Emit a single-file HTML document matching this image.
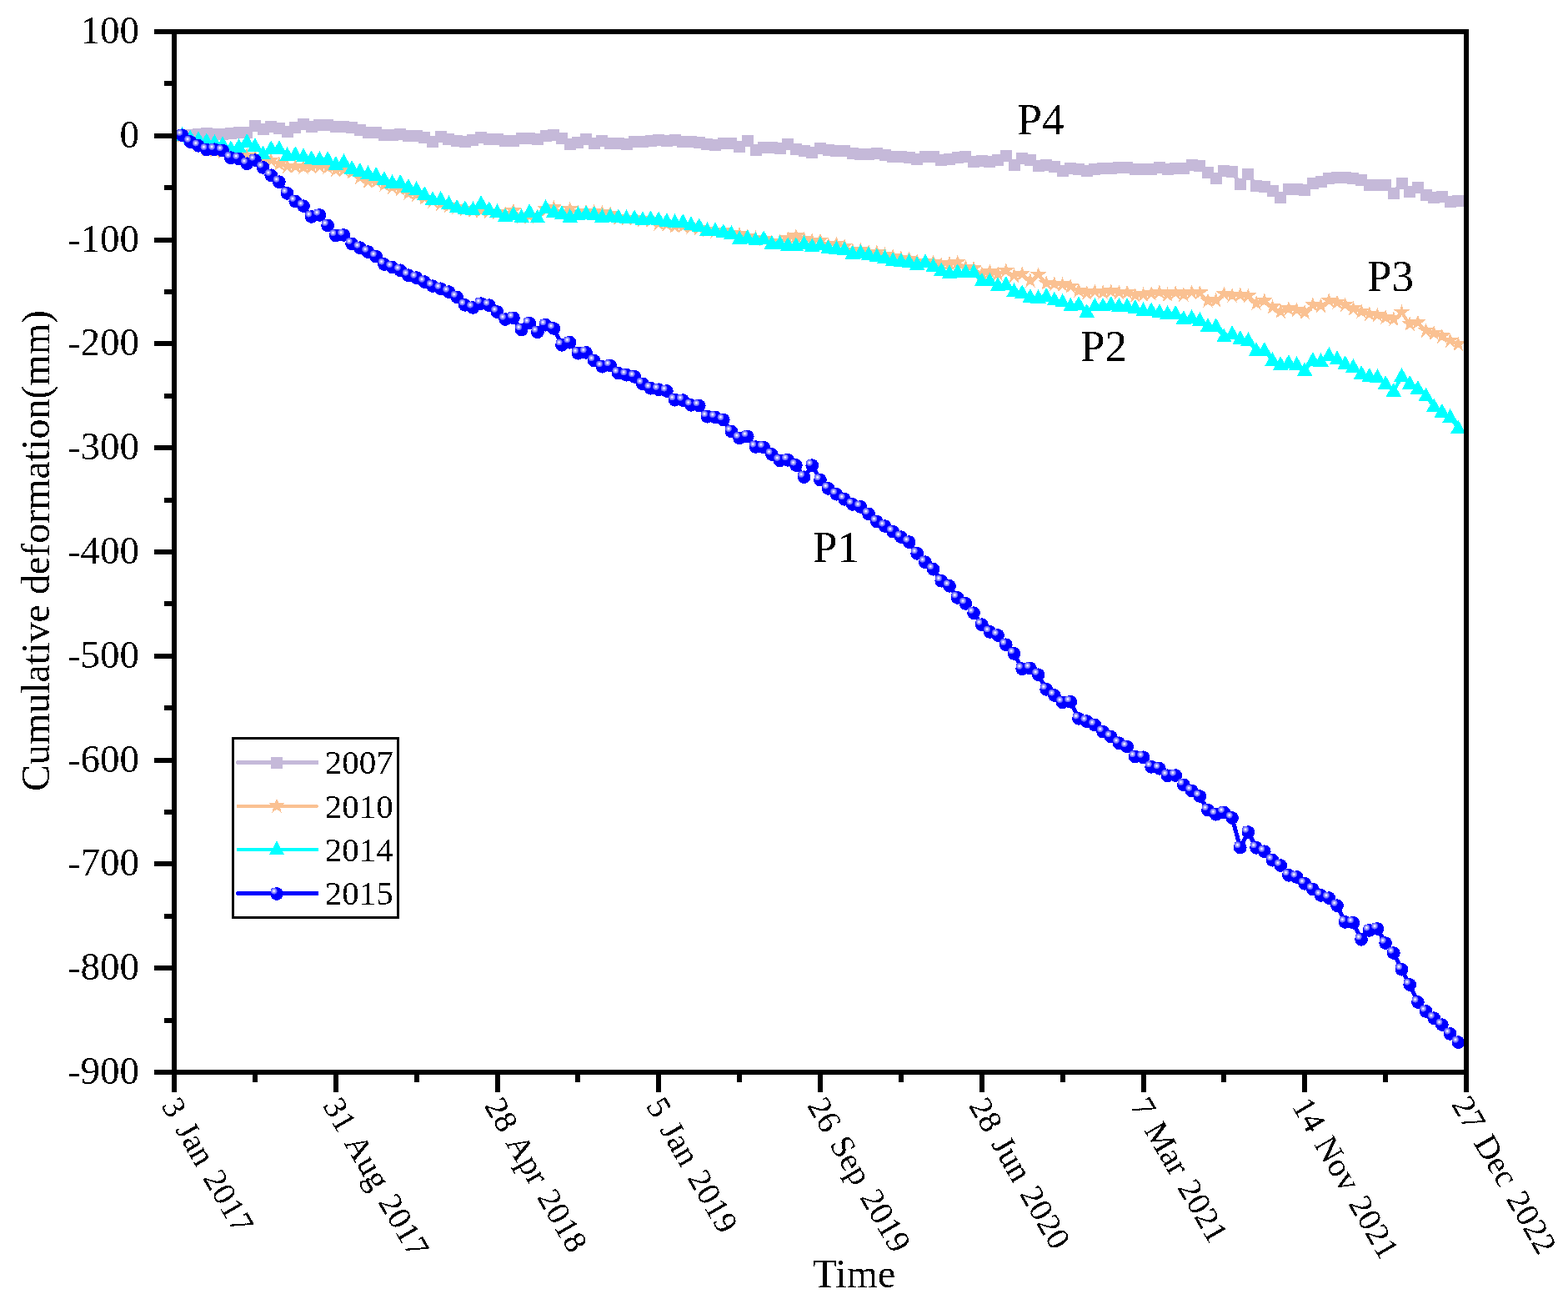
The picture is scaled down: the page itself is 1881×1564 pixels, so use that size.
<!DOCTYPE html>
<html lang="en"><head><meta charset="utf-8"><title>Cumulative deformation</title>
<style>html,body{margin:0;padding:0;background:#fff}svg{display:block}text{font-family:"Liberation Serif",serif;fill:#000}</style>
</head><body>
<svg width="1881" height="1564" viewBox="0 0 1881 1564">
<defs>
<radialGradient id="hl" cx="50%" cy="50%" r="50%"><stop offset="0" stop-color="#fff"/><stop offset="0.18" stop-color="#f4f4ff"/><stop offset="0.4" stop-color="#acacff"/><stop offset="0.75" stop-color="#7878ff"/><stop offset="1" stop-color="#3030ff"/></radialGradient>
<rect id="mS" x="-7.0" y="-7.0" width="14" height="14" fill="#C5B9D9"/>
<polygon id="mT" points="0.00,-9.60 2.00,-4.30 9.20,-4.30 9.20,-3.10 3.80,0.80 5.80,8.20 0.00,3.40 -5.80,8.20 -3.80,0.80 -9.20,-3.10 -9.20,-4.30 -2.00,-4.30" fill="#FAC192"/>
<polygon id="mU" points="0,-10.4 9.2,6.1 -9.2,6.1" fill="#00FFFF"/>
<g id="mB"><circle r="7.85" fill="#0000FF"/><circle cx="-3.35" cy="-3.35" r="4.0" fill="url(#hl)"/></g>
<clipPath id="cp"><rect x="209" y="38" width="1550" height="1248"/></clipPath>
<filter id="tx" x="-20%" y="-20%" width="140%" height="140%" color-interpolation-filters="sRGB"><feComponentTransfer><feFuncA type="discrete" tableValues="0 1"/></feComponentTransfer></filter>
</defs>
<rect width="1881" height="1564" fill="#fff"/>
<g clip-path="url(#cp)" shape-rendering="crispEdges">
<path d="M218.7 162.6 L228.4 162 L238.1 161.2 L247.8 160.1 L257.4 161.2 L267.1 160.8 L276.8 160.1 L286.5 159.4 L296.2 159.1 L305.9 151.2 L315.6 155.1 L325.2 152.1 L334.9 154.1 L344.6 158 L354.3 153 L364 149.1 L373.7 152.1 L383.4 149.8 L393.1 149.8 L402.8 151.8 L412.4 151.9 L422.1 153 L431.8 156.2 L441.5 159.1 L451.2 159.1 L460.9 161.8 L470.6 161.8 L480.2 160.9 L489.9 162.6 L499.6 163 L509.3 165.4 L519 169.7 L528.7 164.1 L538.4 167 L548.1 169.1 L557.8 169.9 L567.4 168.1 L577.1 165.1 L586.8 167.1 L596.5 167.3 L606.2 169.4 L615.9 168.8 L625.6 166 L635.2 166 L644.9 166.5 L654.6 163 L664.3 162.1 L674 166.2 L683.7 173.1 L693.4 171.2 L703.1 167.3 L712.8 172 L722.4 169.2 L732.1 172 L741.8 172 L751.5 173.1 L761.2 170.1 L770.9 169.9 L780.6 169.1 L790.2 168.2 L799.9 169.1 L809.6 168.2 L819.3 169.8 L829 169.8 L838.7 170.9 L848.4 173 L858.1 174.1 L867.8 172.1 L877.4 172.1 L887.1 176.2 L896.8 169.1 L906.5 180.1 L916.2 177.3 L925.9 177.3 L935.6 178.1 L945.2 173 L954.9 179.1 L964.6 181.1 L974.3 183.1 L984 177.9 L993.7 180 L1003.4 181.1 L1013.1 181.1 L1022.8 184 L1032.4 185 L1042.1 184.8 L1051.8 184 L1061.5 186.1 L1071.2 188 L1080.9 188 L1090.6 189.1 L1100.2 191.1 L1109.9 188 L1119.6 188 L1129.3 192.1 L1139 191.1 L1148.7 189.1 L1158.4 188 L1168.1 194.1 L1177.8 193 L1187.4 193.5 L1197.1 192.1 L1206.8 186.9 L1216.5 198.1 L1226.2 190 L1235.9 192.1 L1245.6 198.8 L1255.2 198.1 L1264.9 200.1 L1274.6 205 L1284.3 202 L1294 203.1 L1303.7 205 L1313.4 203.1 L1323.1 202 L1332.8 202 L1342.4 201.1 L1352.1 201.1 L1361.8 203.1 L1371.5 203.1 L1381.2 202.9 L1390.9 201.1 L1400.6 203.1 L1410.2 202 L1419.9 202 L1429.6 198.1 L1439.3 199.2 L1449 207.1 L1458.7 214 L1468.4 205 L1478.1 206.1 L1487.8 220.9 L1497.4 209 L1507.1 223.1 L1516.8 224.1 L1526.5 229 L1536.2 237.2 L1545.9 227.1 L1555.6 227.3 L1565.2 228.2 L1574.9 220.2 L1584.6 217.6 L1594.3 214.4 L1604 213.1 L1613.7 213.1 L1623.4 214.2 L1633.1 216.2 L1642.8 222 L1652.4 222.3 L1662.1 222.3 L1671.8 231.5 L1681.5 220.1 L1691.2 229.5 L1700.9 225.1 L1710.6 234.3 L1720.2 236.5 L1729.9 236.1 L1739.6 241.6 L1749.3 241" fill="none" stroke="#C5B9D9" stroke-width="5" stroke-linejoin="round" stroke-linecap="round"/>
<use href="#mS" x="218.7" y="162.6"/><use href="#mS" x="228.4" y="162"/><use href="#mS" x="238.1" y="161.2"/><use href="#mS" x="247.8" y="160.1"/><use href="#mS" x="257.4" y="161.2"/><use href="#mS" x="267.1" y="160.8"/><use href="#mS" x="276.8" y="160.1"/><use href="#mS" x="286.5" y="159.4"/><use href="#mS" x="296.2" y="159.1"/><use href="#mS" x="305.9" y="151.2"/><use href="#mS" x="315.6" y="155.1"/><use href="#mS" x="325.2" y="152.1"/><use href="#mS" x="334.9" y="154.1"/><use href="#mS" x="344.6" y="158"/><use href="#mS" x="354.3" y="153"/><use href="#mS" x="364" y="149.1"/><use href="#mS" x="373.7" y="152.1"/><use href="#mS" x="383.4" y="149.8"/><use href="#mS" x="393.1" y="149.8"/><use href="#mS" x="402.8" y="151.8"/><use href="#mS" x="412.4" y="151.9"/><use href="#mS" x="422.1" y="153"/><use href="#mS" x="431.8" y="156.2"/><use href="#mS" x="441.5" y="159.1"/><use href="#mS" x="451.2" y="159.1"/><use href="#mS" x="460.9" y="161.8"/><use href="#mS" x="470.6" y="161.8"/><use href="#mS" x="480.2" y="160.9"/><use href="#mS" x="489.9" y="162.6"/><use href="#mS" x="499.6" y="163"/><use href="#mS" x="509.3" y="165.4"/><use href="#mS" x="519" y="169.7"/><use href="#mS" x="528.7" y="164.1"/><use href="#mS" x="538.4" y="167"/><use href="#mS" x="548.1" y="169.1"/><use href="#mS" x="557.8" y="169.9"/><use href="#mS" x="567.4" y="168.1"/><use href="#mS" x="577.1" y="165.1"/><use href="#mS" x="586.8" y="167.1"/><use href="#mS" x="596.5" y="167.3"/><use href="#mS" x="606.2" y="169.4"/><use href="#mS" x="615.9" y="168.8"/><use href="#mS" x="625.6" y="166"/><use href="#mS" x="635.2" y="166"/><use href="#mS" x="644.9" y="166.5"/><use href="#mS" x="654.6" y="163"/><use href="#mS" x="664.3" y="162.1"/><use href="#mS" x="674" y="166.2"/><use href="#mS" x="683.7" y="173.1"/><use href="#mS" x="693.4" y="171.2"/><use href="#mS" x="703.1" y="167.3"/><use href="#mS" x="712.8" y="172"/><use href="#mS" x="722.4" y="169.2"/><use href="#mS" x="732.1" y="172"/><use href="#mS" x="741.8" y="172"/><use href="#mS" x="751.5" y="173.1"/><use href="#mS" x="761.2" y="170.1"/><use href="#mS" x="770.9" y="169.9"/><use href="#mS" x="780.6" y="169.1"/><use href="#mS" x="790.2" y="168.2"/><use href="#mS" x="799.9" y="169.1"/><use href="#mS" x="809.6" y="168.2"/><use href="#mS" x="819.3" y="169.8"/><use href="#mS" x="829" y="169.8"/><use href="#mS" x="838.7" y="170.9"/><use href="#mS" x="848.4" y="173"/><use href="#mS" x="858.1" y="174.1"/><use href="#mS" x="867.8" y="172.1"/><use href="#mS" x="877.4" y="172.1"/><use href="#mS" x="887.1" y="176.2"/><use href="#mS" x="896.8" y="169.1"/><use href="#mS" x="906.5" y="180.1"/><use href="#mS" x="916.2" y="177.3"/><use href="#mS" x="925.9" y="177.3"/><use href="#mS" x="935.6" y="178.1"/><use href="#mS" x="945.2" y="173"/><use href="#mS" x="954.9" y="179.1"/><use href="#mS" x="964.6" y="181.1"/><use href="#mS" x="974.3" y="183.1"/><use href="#mS" x="984" y="177.9"/><use href="#mS" x="993.7" y="180"/><use href="#mS" x="1003.4" y="181.1"/><use href="#mS" x="1013.1" y="181.1"/><use href="#mS" x="1022.8" y="184"/><use href="#mS" x="1032.4" y="185"/><use href="#mS" x="1042.1" y="184.8"/><use href="#mS" x="1051.8" y="184"/><use href="#mS" x="1061.5" y="186.1"/><use href="#mS" x="1071.2" y="188"/><use href="#mS" x="1080.9" y="188"/><use href="#mS" x="1090.6" y="189.1"/><use href="#mS" x="1100.2" y="191.1"/><use href="#mS" x="1109.9" y="188"/><use href="#mS" x="1119.6" y="188"/><use href="#mS" x="1129.3" y="192.1"/><use href="#mS" x="1139" y="191.1"/><use href="#mS" x="1148.7" y="189.1"/><use href="#mS" x="1158.4" y="188"/><use href="#mS" x="1168.1" y="194.1"/><use href="#mS" x="1177.8" y="193"/><use href="#mS" x="1187.4" y="193.5"/><use href="#mS" x="1197.1" y="192.1"/><use href="#mS" x="1206.8" y="186.9"/><use href="#mS" x="1216.5" y="198.1"/><use href="#mS" x="1226.2" y="190"/><use href="#mS" x="1235.9" y="192.1"/><use href="#mS" x="1245.6" y="198.8"/><use href="#mS" x="1255.2" y="198.1"/><use href="#mS" x="1264.9" y="200.1"/><use href="#mS" x="1274.6" y="205"/><use href="#mS" x="1284.3" y="202"/><use href="#mS" x="1294" y="203.1"/><use href="#mS" x="1303.7" y="205"/><use href="#mS" x="1313.4" y="203.1"/><use href="#mS" x="1323.1" y="202"/><use href="#mS" x="1332.8" y="202"/><use href="#mS" x="1342.4" y="201.1"/><use href="#mS" x="1352.1" y="201.1"/><use href="#mS" x="1361.8" y="203.1"/><use href="#mS" x="1371.5" y="203.1"/><use href="#mS" x="1381.2" y="202.9"/><use href="#mS" x="1390.9" y="201.1"/><use href="#mS" x="1400.6" y="203.1"/><use href="#mS" x="1410.2" y="202"/><use href="#mS" x="1419.9" y="202"/><use href="#mS" x="1429.6" y="198.1"/><use href="#mS" x="1439.3" y="199.2"/><use href="#mS" x="1449" y="207.1"/><use href="#mS" x="1458.7" y="214"/><use href="#mS" x="1468.4" y="205"/><use href="#mS" x="1478.1" y="206.1"/><use href="#mS" x="1487.8" y="220.9"/><use href="#mS" x="1497.4" y="209"/><use href="#mS" x="1507.1" y="223.1"/><use href="#mS" x="1516.8" y="224.1"/><use href="#mS" x="1526.5" y="229"/><use href="#mS" x="1536.2" y="237.2"/><use href="#mS" x="1545.9" y="227.1"/><use href="#mS" x="1555.6" y="227.3"/><use href="#mS" x="1565.2" y="228.2"/><use href="#mS" x="1574.9" y="220.2"/><use href="#mS" x="1584.6" y="217.6"/><use href="#mS" x="1594.3" y="214.4"/><use href="#mS" x="1604" y="213.1"/><use href="#mS" x="1613.7" y="213.1"/><use href="#mS" x="1623.4" y="214.2"/><use href="#mS" x="1633.1" y="216.2"/><use href="#mS" x="1642.8" y="222"/><use href="#mS" x="1652.4" y="222.3"/><use href="#mS" x="1662.1" y="222.3"/><use href="#mS" x="1671.8" y="231.5"/><use href="#mS" x="1681.5" y="220.1"/><use href="#mS" x="1691.2" y="229.5"/><use href="#mS" x="1700.9" y="225.1"/><use href="#mS" x="1710.6" y="234.3"/><use href="#mS" x="1720.2" y="236.5"/><use href="#mS" x="1729.9" y="236.1"/><use href="#mS" x="1739.6" y="241.6"/><use href="#mS" x="1749.3" y="241"/>
</g>
<g clip-path="url(#cp)" shape-rendering="crispEdges">
<path d="M218.7 163 L228.4 168.3 L238.1 173.7 L247.8 179 L257.4 181 L267.1 182.4 L276.8 183.9 L286.5 185.4 L296.2 186.8 L305.9 188.8 L315.6 190.8 L325.2 192.8 L334.9 197 L344.6 200 L354.3 200 L364 201 L373.7 200.5 L383.4 200 L393.1 201 L402.8 204.1 L412.4 204.1 L422.1 207.1 L431.8 213.1 L441.5 217.9 L451.2 217.9 L460.9 222 L470.6 225.2 L480.2 227.3 L489.9 232.1 L499.6 234.1 L509.3 237.9 L519 241.8 L528.7 245 L538.4 247.7 L548.1 249 L557.8 251.1 L567.4 253 L577.1 253 L586.8 253.9 L596.5 255.4 L606.2 256.9 L615.9 253.2 L625.6 260.7 L635.2 259.5 L644.9 260 L654.6 251.5 L664.3 249.5 L674 255.5 L683.7 251.1 L693.4 255.3 L703.1 254.3 L712.8 254.3 L722.4 255.3 L732.1 256.9 L741.8 261.6 L751.5 262.3 L761.2 262.3 L770.9 263.8 L780.6 264.6 L790.2 268.5 L799.9 269.6 L809.6 271.7 L819.3 271.7 L829 272.8 L838.7 273.9 L848.4 276.5 L858.1 277.6 L867.8 277.6 L877.4 280 L887.1 281.5 L896.8 283.9 L906.5 286 L916.2 287.8 L925.9 291 L935.6 289.9 L945.2 286.7 L954.9 283.8 L964.6 287.6 L974.3 289 L984 289 L993.7 294.1 L1003.4 292.9 L1013.1 295.9 L1022.8 301 L1032.4 300.4 L1042.1 303 L1051.8 303 L1061.5 306 L1071.2 307.9 L1080.9 309.9 L1090.6 311 L1100.2 314 L1109.9 314.2 L1119.6 315 L1129.3 317.9 L1139 316.3 L1148.7 315.1 L1158.4 320.9 L1168.1 322.5 L1177.8 329 L1187.4 326.1 L1197.1 328.9 L1206.8 325 L1216.5 331 L1226.2 328.9 L1235.9 336.9 L1245.6 330 L1255.2 339.9 L1264.9 340.9 L1274.6 341.7 L1284.3 343.9 L1294 348.9 L1303.7 351.8 L1313.4 350 L1323.1 351 L1332.8 349.8 L1342.4 351.1 L1352.1 351.1 L1361.8 354.6 L1371.5 353.8 L1381.2 352.5 L1390.9 350.9 L1400.6 353.8 L1410.2 351.7 L1419.9 353.8 L1429.6 350.9 L1439.3 351.7 L1449 361 L1458.7 360.5 L1468.4 353 L1478.1 354.8 L1487.8 354.1 L1497.4 355.2 L1507.1 364 L1516.8 361.1 L1526.5 368.7 L1536.2 374 L1545.9 370.8 L1555.6 372.1 L1565.2 375.1 L1574.9 366 L1584.6 367.1 L1594.3 361 L1604 363.1 L1613.7 366 L1623.4 370.8 L1633.1 374 L1642.8 377 L1652.4 378.2 L1662.1 381 L1671.8 383.2 L1681.5 375 L1691.2 389 L1700.9 387.1 L1710.6 396.9 L1720.2 400.1 L1729.9 403.8 L1739.6 409 L1749.3 413" fill="none" stroke="#FAC192" stroke-width="3.8" stroke-linejoin="round" stroke-linecap="round"/>
<use href="#mT" x="218.7" y="163"/><use href="#mT" x="228.4" y="168.3"/><use href="#mT" x="238.1" y="173.7"/><use href="#mT" x="247.8" y="179"/><use href="#mT" x="257.4" y="181"/><use href="#mT" x="267.1" y="182.4"/><use href="#mT" x="276.8" y="183.9"/><use href="#mT" x="286.5" y="185.4"/><use href="#mT" x="296.2" y="186.8"/><use href="#mT" x="305.9" y="188.8"/><use href="#mT" x="315.6" y="190.8"/><use href="#mT" x="325.2" y="192.8"/><use href="#mT" x="334.9" y="197"/><use href="#mT" x="344.6" y="200"/><use href="#mT" x="354.3" y="200"/><use href="#mT" x="364" y="201"/><use href="#mT" x="373.7" y="200.5"/><use href="#mT" x="383.4" y="200"/><use href="#mT" x="393.1" y="201"/><use href="#mT" x="402.8" y="204.1"/><use href="#mT" x="412.4" y="204.1"/><use href="#mT" x="422.1" y="207.1"/><use href="#mT" x="431.8" y="213.1"/><use href="#mT" x="441.5" y="217.9"/><use href="#mT" x="451.2" y="217.9"/><use href="#mT" x="460.9" y="222"/><use href="#mT" x="470.6" y="225.2"/><use href="#mT" x="480.2" y="227.3"/><use href="#mT" x="489.9" y="232.1"/><use href="#mT" x="499.6" y="234.1"/><use href="#mT" x="509.3" y="237.9"/><use href="#mT" x="519" y="241.8"/><use href="#mT" x="528.7" y="245"/><use href="#mT" x="538.4" y="247.7"/><use href="#mT" x="548.1" y="249"/><use href="#mT" x="557.8" y="251.1"/><use href="#mT" x="567.4" y="253"/><use href="#mT" x="577.1" y="253"/><use href="#mT" x="586.8" y="253.9"/><use href="#mT" x="596.5" y="255.4"/><use href="#mT" x="606.2" y="256.9"/><use href="#mT" x="615.9" y="253.2"/><use href="#mT" x="625.6" y="260.7"/><use href="#mT" x="635.2" y="259.5"/><use href="#mT" x="644.9" y="260"/><use href="#mT" x="654.6" y="251.5"/><use href="#mT" x="664.3" y="249.5"/><use href="#mT" x="674" y="255.5"/><use href="#mT" x="683.7" y="251.1"/><use href="#mT" x="693.4" y="255.3"/><use href="#mT" x="703.1" y="254.3"/><use href="#mT" x="712.8" y="254.3"/><use href="#mT" x="722.4" y="255.3"/><use href="#mT" x="732.1" y="256.9"/><use href="#mT" x="741.8" y="261.6"/><use href="#mT" x="751.5" y="262.3"/><use href="#mT" x="761.2" y="262.3"/><use href="#mT" x="770.9" y="263.8"/><use href="#mT" x="780.6" y="264.6"/><use href="#mT" x="790.2" y="268.5"/><use href="#mT" x="799.9" y="269.6"/><use href="#mT" x="809.6" y="271.7"/><use href="#mT" x="819.3" y="271.7"/><use href="#mT" x="829" y="272.8"/><use href="#mT" x="838.7" y="273.9"/><use href="#mT" x="848.4" y="276.5"/><use href="#mT" x="858.1" y="277.6"/><use href="#mT" x="867.8" y="277.6"/><use href="#mT" x="877.4" y="280"/><use href="#mT" x="887.1" y="281.5"/><use href="#mT" x="896.8" y="283.9"/><use href="#mT" x="906.5" y="286"/><use href="#mT" x="916.2" y="287.8"/><use href="#mT" x="925.9" y="291"/><use href="#mT" x="935.6" y="289.9"/><use href="#mT" x="945.2" y="286.7"/><use href="#mT" x="954.9" y="283.8"/><use href="#mT" x="964.6" y="287.6"/><use href="#mT" x="974.3" y="289"/><use href="#mT" x="984" y="289"/><use href="#mT" x="993.7" y="294.1"/><use href="#mT" x="1003.4" y="292.9"/><use href="#mT" x="1013.1" y="295.9"/><use href="#mT" x="1022.8" y="301"/><use href="#mT" x="1032.4" y="300.4"/><use href="#mT" x="1042.1" y="303"/><use href="#mT" x="1051.8" y="303"/><use href="#mT" x="1061.5" y="306"/><use href="#mT" x="1071.2" y="307.9"/><use href="#mT" x="1080.9" y="309.9"/><use href="#mT" x="1090.6" y="311"/><use href="#mT" x="1100.2" y="314"/><use href="#mT" x="1109.9" y="314.2"/><use href="#mT" x="1119.6" y="315"/><use href="#mT" x="1129.3" y="317.9"/><use href="#mT" x="1139" y="316.3"/><use href="#mT" x="1148.7" y="315.1"/><use href="#mT" x="1158.4" y="320.9"/><use href="#mT" x="1168.1" y="322.5"/><use href="#mT" x="1177.8" y="329"/><use href="#mT" x="1187.4" y="326.1"/><use href="#mT" x="1197.1" y="328.9"/><use href="#mT" x="1206.8" y="325"/><use href="#mT" x="1216.5" y="331"/><use href="#mT" x="1226.2" y="328.9"/><use href="#mT" x="1235.9" y="336.9"/><use href="#mT" x="1245.6" y="330"/><use href="#mT" x="1255.2" y="339.9"/><use href="#mT" x="1264.9" y="340.9"/><use href="#mT" x="1274.6" y="341.7"/><use href="#mT" x="1284.3" y="343.9"/><use href="#mT" x="1294" y="348.9"/><use href="#mT" x="1303.7" y="351.8"/><use href="#mT" x="1313.4" y="350"/><use href="#mT" x="1323.1" y="351"/><use href="#mT" x="1332.8" y="349.8"/><use href="#mT" x="1342.4" y="351.1"/><use href="#mT" x="1352.1" y="351.1"/><use href="#mT" x="1361.8" y="354.6"/><use href="#mT" x="1371.5" y="353.8"/><use href="#mT" x="1381.2" y="352.5"/><use href="#mT" x="1390.9" y="350.9"/><use href="#mT" x="1400.6" y="353.8"/><use href="#mT" x="1410.2" y="351.7"/><use href="#mT" x="1419.9" y="353.8"/><use href="#mT" x="1429.6" y="350.9"/><use href="#mT" x="1439.3" y="351.7"/><use href="#mT" x="1449" y="361"/><use href="#mT" x="1458.7" y="360.5"/><use href="#mT" x="1468.4" y="353"/><use href="#mT" x="1478.1" y="354.8"/><use href="#mT" x="1487.8" y="354.1"/><use href="#mT" x="1497.4" y="355.2"/><use href="#mT" x="1507.1" y="364"/><use href="#mT" x="1516.8" y="361.1"/><use href="#mT" x="1526.5" y="368.7"/><use href="#mT" x="1536.2" y="374"/><use href="#mT" x="1545.9" y="370.8"/><use href="#mT" x="1555.6" y="372.1"/><use href="#mT" x="1565.2" y="375.1"/><use href="#mT" x="1574.9" y="366"/><use href="#mT" x="1584.6" y="367.1"/><use href="#mT" x="1594.3" y="361"/><use href="#mT" x="1604" y="363.1"/><use href="#mT" x="1613.7" y="366"/><use href="#mT" x="1623.4" y="370.8"/><use href="#mT" x="1633.1" y="374"/><use href="#mT" x="1642.8" y="377"/><use href="#mT" x="1652.4" y="378.2"/><use href="#mT" x="1662.1" y="381"/><use href="#mT" x="1671.8" y="383.2"/><use href="#mT" x="1681.5" y="375"/><use href="#mT" x="1691.2" y="389"/><use href="#mT" x="1700.9" y="387.1"/><use href="#mT" x="1710.6" y="396.9"/><use href="#mT" x="1720.2" y="400.1"/><use href="#mT" x="1729.9" y="403.8"/><use href="#mT" x="1739.6" y="409"/><use href="#mT" x="1749.3" y="413"/>
</g>
<g clip-path="url(#cp)" shape-rendering="crispEdges">
<path d="M218.7 162.5 L228.4 166.2 L238.1 167.6 L247.8 169.7 L257.4 171.5 L267.1 173.7 L276.8 178.8 L286.5 176.5 L296.2 170.5 L305.9 175.6 L315.6 184.8 L325.2 178.7 L334.9 178.7 L344.6 186.6 L354.3 185.6 L364 187.7 L373.7 190.7 L383.4 191.5 L393.1 191.5 L402.8 197.5 L412.4 194.6 L422.1 202.5 L431.8 205.5 L441.5 208.7 L451.2 210.5 L460.9 215.6 L470.6 219.5 L480.2 219.5 L489.9 224.6 L499.6 227.6 L509.3 233.7 L519 239.5 L528.7 239.5 L538.4 244.6 L548.1 249.3 L557.8 250.7 L567.4 251.7 L577.1 244.6 L586.8 251.7 L596.5 254.7 L606.2 259.7 L615.9 257.6 L625.6 260.7 L635.2 254.6 L644.9 261.3 L654.6 249.6 L664.3 254.9 L674 256.7 L683.7 260.5 L693.4 257.6 L703.1 256.5 L712.8 257.6 L722.4 260.7 L732.1 259.9 L741.8 260.7 L751.5 261.8 L761.2 261.8 L770.9 263.7 L780.6 262.8 L790.2 263.8 L799.9 265.6 L809.6 266.7 L819.3 266.7 L829 269.7 L838.7 271.8 L848.4 276.6 L858.1 276.8 L867.8 278.7 L877.4 280.5 L887.1 286.7 L896.8 285.6 L906.5 288.3 L916.2 286.7 L925.9 292.5 L935.6 292.5 L945.2 294.7 L954.9 294.8 L964.6 292.7 L974.3 295.9 L984 293.9 L993.7 297.7 L1003.4 298.7 L1013.1 299.8 L1022.8 304.6 L1032.4 303.5 L1042.1 305.6 L1051.8 307.8 L1061.5 309.7 L1071.2 312.5 L1080.9 313.6 L1090.6 314.7 L1100.2 317.6 L1109.9 314.7 L1119.6 319.7 L1129.3 324.8 L1139 328 L1148.7 326.6 L1158.4 326.8 L1168.1 326.8 L1177.8 337.4 L1187.4 337.4 L1197.1 342.7 L1206.8 341.6 L1216.5 349.6 L1226.2 351.7 L1235.9 356.5 L1245.6 357.6 L1255.2 355.5 L1264.9 360.2 L1274.6 362.4 L1284.3 367.2 L1294 365.6 L1303.7 374.6 L1313.4 367.4 L1323.1 367.4 L1332.8 365.6 L1342.4 367.5 L1352.1 367.5 L1361.8 369.6 L1371.5 372.8 L1381.2 372.8 L1390.9 374.7 L1400.6 376.5 L1410.2 376.5 L1419.9 382.6 L1429.6 381.5 L1439.3 384.5 L1449 391.6 L1458.7 391.6 L1468.4 404.2 L1478.1 400.7 L1487.8 406.6 L1497.4 408.6 L1507.1 420.6 L1516.8 420.6 L1526.5 432.6 L1536.2 437.6 L1545.9 435.5 L1555.6 437.6 L1565.2 444.6 L1574.9 432.6 L1584.6 433.6 L1594.3 426.5 L1604 430.7 L1613.7 436.6 L1623.4 440.5 L1633.1 448.5 L1642.8 451.5 L1652.4 452.6 L1662.1 460.5 L1671.8 469.6 L1681.5 451.5 L1691.2 460.5 L1700.9 466.5 L1710.6 475 L1720.2 487.8 L1729.9 494.4 L1739.6 500.4 L1749.3 513.9" fill="none" stroke="#00FFFF" stroke-width="4.1" stroke-linejoin="round" stroke-linecap="round"/>
<use href="#mU" x="218.7" y="162.5"/><use href="#mU" x="228.4" y="166.2"/><use href="#mU" x="238.1" y="167.6"/><use href="#mU" x="247.8" y="169.7"/><use href="#mU" x="257.4" y="171.5"/><use href="#mU" x="267.1" y="173.7"/><use href="#mU" x="276.8" y="178.8"/><use href="#mU" x="286.5" y="176.5"/><use href="#mU" x="296.2" y="170.5"/><use href="#mU" x="305.9" y="175.6"/><use href="#mU" x="315.6" y="184.8"/><use href="#mU" x="325.2" y="178.7"/><use href="#mU" x="334.9" y="178.7"/><use href="#mU" x="344.6" y="186.6"/><use href="#mU" x="354.3" y="185.6"/><use href="#mU" x="364" y="187.7"/><use href="#mU" x="373.7" y="190.7"/><use href="#mU" x="383.4" y="191.5"/><use href="#mU" x="393.1" y="191.5"/><use href="#mU" x="402.8" y="197.5"/><use href="#mU" x="412.4" y="194.6"/><use href="#mU" x="422.1" y="202.5"/><use href="#mU" x="431.8" y="205.5"/><use href="#mU" x="441.5" y="208.7"/><use href="#mU" x="451.2" y="210.5"/><use href="#mU" x="460.9" y="215.6"/><use href="#mU" x="470.6" y="219.5"/><use href="#mU" x="480.2" y="219.5"/><use href="#mU" x="489.9" y="224.6"/><use href="#mU" x="499.6" y="227.6"/><use href="#mU" x="509.3" y="233.7"/><use href="#mU" x="519" y="239.5"/><use href="#mU" x="528.7" y="239.5"/><use href="#mU" x="538.4" y="244.6"/><use href="#mU" x="548.1" y="249.3"/><use href="#mU" x="557.8" y="250.7"/><use href="#mU" x="567.4" y="251.7"/><use href="#mU" x="577.1" y="244.6"/><use href="#mU" x="586.8" y="251.7"/><use href="#mU" x="596.5" y="254.7"/><use href="#mU" x="606.2" y="259.7"/><use href="#mU" x="615.9" y="257.6"/><use href="#mU" x="625.6" y="260.7"/><use href="#mU" x="635.2" y="254.6"/><use href="#mU" x="644.9" y="261.3"/><use href="#mU" x="654.6" y="249.6"/><use href="#mU" x="664.3" y="254.9"/><use href="#mU" x="674" y="256.7"/><use href="#mU" x="683.7" y="260.5"/><use href="#mU" x="693.4" y="257.6"/><use href="#mU" x="703.1" y="256.5"/><use href="#mU" x="712.8" y="257.6"/><use href="#mU" x="722.4" y="260.7"/><use href="#mU" x="732.1" y="259.9"/><use href="#mU" x="741.8" y="260.7"/><use href="#mU" x="751.5" y="261.8"/><use href="#mU" x="761.2" y="261.8"/><use href="#mU" x="770.9" y="263.7"/><use href="#mU" x="780.6" y="262.8"/><use href="#mU" x="790.2" y="263.8"/><use href="#mU" x="799.9" y="265.6"/><use href="#mU" x="809.6" y="266.7"/><use href="#mU" x="819.3" y="266.7"/><use href="#mU" x="829" y="269.7"/><use href="#mU" x="838.7" y="271.8"/><use href="#mU" x="848.4" y="276.6"/><use href="#mU" x="858.1" y="276.8"/><use href="#mU" x="867.8" y="278.7"/><use href="#mU" x="877.4" y="280.5"/><use href="#mU" x="887.1" y="286.7"/><use href="#mU" x="896.8" y="285.6"/><use href="#mU" x="906.5" y="288.3"/><use href="#mU" x="916.2" y="286.7"/><use href="#mU" x="925.9" y="292.5"/><use href="#mU" x="935.6" y="292.5"/><use href="#mU" x="945.2" y="294.7"/><use href="#mU" x="954.9" y="294.8"/><use href="#mU" x="964.6" y="292.7"/><use href="#mU" x="974.3" y="295.9"/><use href="#mU" x="984" y="293.9"/><use href="#mU" x="993.7" y="297.7"/><use href="#mU" x="1003.4" y="298.7"/><use href="#mU" x="1013.1" y="299.8"/><use href="#mU" x="1022.8" y="304.6"/><use href="#mU" x="1032.4" y="303.5"/><use href="#mU" x="1042.1" y="305.6"/><use href="#mU" x="1051.8" y="307.8"/><use href="#mU" x="1061.5" y="309.7"/><use href="#mU" x="1071.2" y="312.5"/><use href="#mU" x="1080.9" y="313.6"/><use href="#mU" x="1090.6" y="314.7"/><use href="#mU" x="1100.2" y="317.6"/><use href="#mU" x="1109.9" y="314.7"/><use href="#mU" x="1119.6" y="319.7"/><use href="#mU" x="1129.3" y="324.8"/><use href="#mU" x="1139" y="328"/><use href="#mU" x="1148.7" y="326.6"/><use href="#mU" x="1158.4" y="326.8"/><use href="#mU" x="1168.1" y="326.8"/><use href="#mU" x="1177.8" y="337.4"/><use href="#mU" x="1187.4" y="337.4"/><use href="#mU" x="1197.1" y="342.7"/><use href="#mU" x="1206.8" y="341.6"/><use href="#mU" x="1216.5" y="349.6"/><use href="#mU" x="1226.2" y="351.7"/><use href="#mU" x="1235.9" y="356.5"/><use href="#mU" x="1245.6" y="357.6"/><use href="#mU" x="1255.2" y="355.5"/><use href="#mU" x="1264.9" y="360.2"/><use href="#mU" x="1274.6" y="362.4"/><use href="#mU" x="1284.3" y="367.2"/><use href="#mU" x="1294" y="365.6"/><use href="#mU" x="1303.7" y="374.6"/><use href="#mU" x="1313.4" y="367.4"/><use href="#mU" x="1323.1" y="367.4"/><use href="#mU" x="1332.8" y="365.6"/><use href="#mU" x="1342.4" y="367.5"/><use href="#mU" x="1352.1" y="367.5"/><use href="#mU" x="1361.8" y="369.6"/><use href="#mU" x="1371.5" y="372.8"/><use href="#mU" x="1381.2" y="372.8"/><use href="#mU" x="1390.9" y="374.7"/><use href="#mU" x="1400.6" y="376.5"/><use href="#mU" x="1410.2" y="376.5"/><use href="#mU" x="1419.9" y="382.6"/><use href="#mU" x="1429.6" y="381.5"/><use href="#mU" x="1439.3" y="384.5"/><use href="#mU" x="1449" y="391.6"/><use href="#mU" x="1458.7" y="391.6"/><use href="#mU" x="1468.4" y="404.2"/><use href="#mU" x="1478.1" y="400.7"/><use href="#mU" x="1487.8" y="406.6"/><use href="#mU" x="1497.4" y="408.6"/><use href="#mU" x="1507.1" y="420.6"/><use href="#mU" x="1516.8" y="420.6"/><use href="#mU" x="1526.5" y="432.6"/><use href="#mU" x="1536.2" y="437.6"/><use href="#mU" x="1545.9" y="435.5"/><use href="#mU" x="1555.6" y="437.6"/><use href="#mU" x="1565.2" y="444.6"/><use href="#mU" x="1574.9" y="432.6"/><use href="#mU" x="1584.6" y="433.6"/><use href="#mU" x="1594.3" y="426.5"/><use href="#mU" x="1604" y="430.7"/><use href="#mU" x="1613.7" y="436.6"/><use href="#mU" x="1623.4" y="440.5"/><use href="#mU" x="1633.1" y="448.5"/><use href="#mU" x="1642.8" y="451.5"/><use href="#mU" x="1652.4" y="452.6"/><use href="#mU" x="1662.1" y="460.5"/><use href="#mU" x="1671.8" y="469.6"/><use href="#mU" x="1681.5" y="451.5"/><use href="#mU" x="1691.2" y="460.5"/><use href="#mU" x="1700.9" y="466.5"/><use href="#mU" x="1710.6" y="475"/><use href="#mU" x="1720.2" y="487.8"/><use href="#mU" x="1729.9" y="494.4"/><use href="#mU" x="1739.6" y="500.4"/><use href="#mU" x="1749.3" y="513.9"/>
</g>
<g clip-path="url(#cp)" shape-rendering="crispEdges">
<path d="M218.7 162.3 L228.4 170.1 L238.1 174.9 L247.8 179.5 L257.4 179.3 L267.1 180.7 L276.8 189.2 L286.5 190.4 L296.2 196.3 L305.9 192.1 L315.6 201 L325.2 210.3 L334.9 218.2 L344.6 231.9 L354.3 241.5 L364 247.1 L373.7 260 L383.4 258 L393.1 270.5 L402.8 282.5 L412.4 282 L422.1 292.4 L431.8 297.2 L441.5 302.1 L451.2 307.7 L460.9 317 L470.6 320.6 L480.2 324.3 L489.9 330.2 L499.6 333.1 L509.3 338.1 L519 343.1 L528.7 346.3 L538.4 350.1 L548.1 356.3 L557.8 365.9 L567.4 369 L577.1 364.1 L586.8 366.2 L596.5 374.1 L606.2 383.1 L615.9 381.3 L625.6 395.6 L635.2 387.7 L644.9 398.3 L654.6 389.8 L664.3 394 L674 413.8 L683.7 410.8 L693.4 423.7 L703.1 422.9 L712.8 432.7 L722.4 439.8 L732.1 438.6 L741.8 447.7 L751.5 449.7 L761.2 451.8 L770.9 460.3 L780.6 465.8 L790.2 467.3 L799.9 469 L809.6 479.7 L819.3 480.1 L829 485.9 L838.7 486.6 L848.4 499.7 L858.1 500.5 L867.8 503.6 L877.4 517.5 L887.1 525.5 L896.8 523.5 L906.5 536 L916.2 536.6 L925.9 545 L935.6 552.4 L945.2 551.8 L954.9 558 L964.6 572.2 L974.3 558.2 L984 575.7 L993.7 585.9 L1003.4 592.8 L1013.1 598.8 L1022.8 604.9 L1032.4 607.9 L1042.1 616.5 L1051.8 625.5 L1061.5 631 L1071.2 637.7 L1080.9 644.1 L1090.6 650.1 L1100.2 663.8 L1109.9 674.2 L1119.6 682.7 L1129.3 696.8 L1139 702.8 L1148.7 716.9 L1158.4 723.9 L1168.1 735.2 L1177.8 749.2 L1187.4 757.9 L1197.1 762 L1206.8 773.3 L1216.5 783.9 L1226.2 802.2 L1235.9 801.6 L1245.6 809.2 L1255.2 826.8 L1264.9 834 L1274.6 842.5 L1284.3 841.8 L1294 861.9 L1303.7 865.1 L1313.4 869.6 L1323.1 877.7 L1332.8 883.7 L1342.4 891.3 L1352.1 895.6 L1361.8 907.7 L1371.5 908.3 L1381.2 919.9 L1390.9 921.8 L1400.6 930.3 L1410.2 930.1 L1419.9 941.3 L1429.6 948.4 L1439.3 955 L1449 971.6 L1458.7 976.8 L1468.4 974.5 L1478.1 981 L1487.8 1016.7 L1497.4 998.1 L1507.1 1016.8 L1516.8 1021.3 L1526.5 1031.7 L1536.2 1038.1 L1545.9 1049.8 L1555.6 1052 L1565.2 1059.9 L1574.9 1066.5 L1584.6 1073.9 L1594.3 1077.1 L1604 1086.2 L1613.7 1106 L1623.4 1106.8 L1633.1 1126.8 L1642.8 1115.9 L1652.4 1114 L1662.1 1131.1 L1671.8 1143.1 L1681.5 1162.8 L1691.2 1181 L1700.9 1202 L1710.6 1213 L1720.2 1221.2 L1729.9 1229.1 L1739.6 1240 L1749.3 1250.1" fill="none" stroke="#0000FF" stroke-width="5" stroke-linejoin="round" stroke-linecap="round"/>
<use href="#mB" x="218.7" y="162.3"/><use href="#mB" x="228.4" y="170.1"/><use href="#mB" x="238.1" y="174.9"/><use href="#mB" x="247.8" y="179.5"/><use href="#mB" x="257.4" y="179.3"/><use href="#mB" x="267.1" y="180.7"/><use href="#mB" x="276.8" y="189.2"/><use href="#mB" x="286.5" y="190.4"/><use href="#mB" x="296.2" y="196.3"/><use href="#mB" x="305.9" y="192.1"/><use href="#mB" x="315.6" y="201"/><use href="#mB" x="325.2" y="210.3"/><use href="#mB" x="334.9" y="218.2"/><use href="#mB" x="344.6" y="231.9"/><use href="#mB" x="354.3" y="241.5"/><use href="#mB" x="364" y="247.1"/><use href="#mB" x="373.7" y="260"/><use href="#mB" x="383.4" y="258"/><use href="#mB" x="393.1" y="270.5"/><use href="#mB" x="402.8" y="282.5"/><use href="#mB" x="412.4" y="282"/><use href="#mB" x="422.1" y="292.4"/><use href="#mB" x="431.8" y="297.2"/><use href="#mB" x="441.5" y="302.1"/><use href="#mB" x="451.2" y="307.7"/><use href="#mB" x="460.9" y="317"/><use href="#mB" x="470.6" y="320.6"/><use href="#mB" x="480.2" y="324.3"/><use href="#mB" x="489.9" y="330.2"/><use href="#mB" x="499.6" y="333.1"/><use href="#mB" x="509.3" y="338.1"/><use href="#mB" x="519" y="343.1"/><use href="#mB" x="528.7" y="346.3"/><use href="#mB" x="538.4" y="350.1"/><use href="#mB" x="548.1" y="356.3"/><use href="#mB" x="557.8" y="365.9"/><use href="#mB" x="567.4" y="369"/><use href="#mB" x="577.1" y="364.1"/><use href="#mB" x="586.8" y="366.2"/><use href="#mB" x="596.5" y="374.1"/><use href="#mB" x="606.2" y="383.1"/><use href="#mB" x="615.9" y="381.3"/><use href="#mB" x="625.6" y="395.6"/><use href="#mB" x="635.2" y="387.7"/><use href="#mB" x="644.9" y="398.3"/><use href="#mB" x="654.6" y="389.8"/><use href="#mB" x="664.3" y="394"/><use href="#mB" x="674" y="413.8"/><use href="#mB" x="683.7" y="410.8"/><use href="#mB" x="693.4" y="423.7"/><use href="#mB" x="703.1" y="422.9"/><use href="#mB" x="712.8" y="432.7"/><use href="#mB" x="722.4" y="439.8"/><use href="#mB" x="732.1" y="438.6"/><use href="#mB" x="741.8" y="447.7"/><use href="#mB" x="751.5" y="449.7"/><use href="#mB" x="761.2" y="451.8"/><use href="#mB" x="770.9" y="460.3"/><use href="#mB" x="780.6" y="465.8"/><use href="#mB" x="790.2" y="467.3"/><use href="#mB" x="799.9" y="469"/><use href="#mB" x="809.6" y="479.7"/><use href="#mB" x="819.3" y="480.1"/><use href="#mB" x="829" y="485.9"/><use href="#mB" x="838.7" y="486.6"/><use href="#mB" x="848.4" y="499.7"/><use href="#mB" x="858.1" y="500.5"/><use href="#mB" x="867.8" y="503.6"/><use href="#mB" x="877.4" y="517.5"/><use href="#mB" x="887.1" y="525.5"/><use href="#mB" x="896.8" y="523.5"/><use href="#mB" x="906.5" y="536"/><use href="#mB" x="916.2" y="536.6"/><use href="#mB" x="925.9" y="545"/><use href="#mB" x="935.6" y="552.4"/><use href="#mB" x="945.2" y="551.8"/><use href="#mB" x="954.9" y="558"/><use href="#mB" x="964.6" y="572.2"/><use href="#mB" x="974.3" y="558.2"/><use href="#mB" x="984" y="575.7"/><use href="#mB" x="993.7" y="585.9"/><use href="#mB" x="1003.4" y="592.8"/><use href="#mB" x="1013.1" y="598.8"/><use href="#mB" x="1022.8" y="604.9"/><use href="#mB" x="1032.4" y="607.9"/><use href="#mB" x="1042.1" y="616.5"/><use href="#mB" x="1051.8" y="625.5"/><use href="#mB" x="1061.5" y="631"/><use href="#mB" x="1071.2" y="637.7"/><use href="#mB" x="1080.9" y="644.1"/><use href="#mB" x="1090.6" y="650.1"/><use href="#mB" x="1100.2" y="663.8"/><use href="#mB" x="1109.9" y="674.2"/><use href="#mB" x="1119.6" y="682.7"/><use href="#mB" x="1129.3" y="696.8"/><use href="#mB" x="1139" y="702.8"/><use href="#mB" x="1148.7" y="716.9"/><use href="#mB" x="1158.4" y="723.9"/><use href="#mB" x="1168.1" y="735.2"/><use href="#mB" x="1177.8" y="749.2"/><use href="#mB" x="1187.4" y="757.9"/><use href="#mB" x="1197.1" y="762"/><use href="#mB" x="1206.8" y="773.3"/><use href="#mB" x="1216.5" y="783.9"/><use href="#mB" x="1226.2" y="802.2"/><use href="#mB" x="1235.9" y="801.6"/><use href="#mB" x="1245.6" y="809.2"/><use href="#mB" x="1255.2" y="826.8"/><use href="#mB" x="1264.9" y="834"/><use href="#mB" x="1274.6" y="842.5"/><use href="#mB" x="1284.3" y="841.8"/><use href="#mB" x="1294" y="861.9"/><use href="#mB" x="1303.7" y="865.1"/><use href="#mB" x="1313.4" y="869.6"/><use href="#mB" x="1323.1" y="877.7"/><use href="#mB" x="1332.8" y="883.7"/><use href="#mB" x="1342.4" y="891.3"/><use href="#mB" x="1352.1" y="895.6"/><use href="#mB" x="1361.8" y="907.7"/><use href="#mB" x="1371.5" y="908.3"/><use href="#mB" x="1381.2" y="919.9"/><use href="#mB" x="1390.9" y="921.8"/><use href="#mB" x="1400.6" y="930.3"/><use href="#mB" x="1410.2" y="930.1"/><use href="#mB" x="1419.9" y="941.3"/><use href="#mB" x="1429.6" y="948.4"/><use href="#mB" x="1439.3" y="955"/><use href="#mB" x="1449" y="971.6"/><use href="#mB" x="1458.7" y="976.8"/><use href="#mB" x="1468.4" y="974.5"/><use href="#mB" x="1478.1" y="981"/><use href="#mB" x="1487.8" y="1016.7"/><use href="#mB" x="1497.4" y="998.1"/><use href="#mB" x="1507.1" y="1016.8"/><use href="#mB" x="1516.8" y="1021.3"/><use href="#mB" x="1526.5" y="1031.7"/><use href="#mB" x="1536.2" y="1038.1"/><use href="#mB" x="1545.9" y="1049.8"/><use href="#mB" x="1555.6" y="1052"/><use href="#mB" x="1565.2" y="1059.9"/><use href="#mB" x="1574.9" y="1066.5"/><use href="#mB" x="1584.6" y="1073.9"/><use href="#mB" x="1594.3" y="1077.1"/><use href="#mB" x="1604" y="1086.2"/><use href="#mB" x="1613.7" y="1106"/><use href="#mB" x="1623.4" y="1106.8"/><use href="#mB" x="1633.1" y="1126.8"/><use href="#mB" x="1642.8" y="1115.9"/><use href="#mB" x="1652.4" y="1114"/><use href="#mB" x="1662.1" y="1131.1"/><use href="#mB" x="1671.8" y="1143.1"/><use href="#mB" x="1681.5" y="1162.8"/><use href="#mB" x="1691.2" y="1181"/><use href="#mB" x="1700.9" y="1202"/><use href="#mB" x="1710.6" y="1213"/><use href="#mB" x="1720.2" y="1221.2"/><use href="#mB" x="1729.9" y="1229.1"/><use href="#mB" x="1739.6" y="1240"/><use href="#mB" x="1749.3" y="1250.1"/>
</g>
<g stroke="#000" stroke-width="6" fill="none" stroke-linecap="butt" shape-rendering="crispEdges">
<path d="M185 38 H1762 M185 1286 H1762 M209 35 V1310 M1759 35 V1310"/>
<path d="M197 100.4 H209 M185 162.8 H209 M197 225.2 H209 M185 287.6 H209 M197 350 H209 M185 412.4 H209 M197 474.8 H209 M185 537.2 H209 M197 599.6 H209 M185 662 H209 M197 724.4 H209 M185 786.8 H209 M197 849.2 H209 M185 911.6 H209 M197 974 H209 M185 1036.4 H209 M197 1098.8 H209 M185 1161.2 H209 M197 1223.6 H209 M305.9 1286 V1298 M402.8 1286 V1310 M499.6 1286 V1298 M596.5 1286 V1310 M693.4 1286 V1298 M790.2 1286 V1310 M887.1 1286 V1298 M984 1286 V1310 M1080.9 1286 V1298 M1177.8 1286 V1310 M1274.6 1286 V1298 M1371.5 1286 V1310 M1468.4 1286 V1298 M1565.2 1286 V1310 M1662.1 1286 V1298"/>
</g>
<g filter="url(#tx)">
<g font-size="47" text-anchor="end">
<text x="167" y="52">100</text>
<text x="167" y="176.8">0</text>
<text x="167" y="301.6">-100</text>
<text x="167" y="426.4">-200</text>
<text x="167" y="551.2">-300</text>
<text x="167" y="676">-400</text>
<text x="167" y="800.8">-500</text>
<text x="167" y="925.6">-600</text>
<text x="167" y="1050.4">-700</text>
<text x="167" y="1175.2">-800</text>
<text x="167" y="1300">-900</text>
</g>
<g font-size="40" letter-spacing="0" word-spacing="3.4">
<text transform="translate(192.7 1326.1) rotate(60)">3 Jan 2017</text>
<text transform="translate(386.4 1326.1) rotate(60)">31 Aug 2017</text>
<text transform="translate(580.2 1326.1) rotate(60)">28 Apr 2018</text>
<text transform="translate(774 1326.1) rotate(60)">5 Jan 2019</text>
<text transform="translate(967.7 1326.1) rotate(60)">26 Sep 2019</text>
<text transform="translate(1161.5 1326.1) rotate(60)">28 Jun 2020</text>
<text transform="translate(1355.2 1326.1) rotate(60)">7 Mar 2021</text>
<text transform="translate(1549 1326.1) rotate(60)">14 Nov 2021</text>
<text transform="translate(1740.5 1324.3) rotate(60)">27 Dec 2022</text>
</g>
<text x="1024.5" y="1544" font-size="48" text-anchor="middle">Time</text>
<text transform="translate(59 660.5) rotate(-90)" font-size="48" text-anchor="middle">Cumulative deformation(mm)</text>
<text x="1220.5" y="161" font-size="53">P4</text>
<text x="1640" y="348.6" font-size="53">P3</text>
<text x="1296" y="433" font-size="53">P2</text>
<text x="975" y="674" font-size="53">P1</text>
</g>
<rect x="279.5" y="885.5" width="198.0" height="215.0" fill="#fff" stroke="#000" stroke-width="3" shape-rendering="crispEdges"/>
<g shape-rendering="crispEdges"><path d="M285.5 914.5 H380" stroke="#C5B9D9" stroke-width="5" stroke-linecap="round" fill="none"/><use href="#mS" x="332" y="915"/></g>
<text x="389.7" y="928" font-size="41" filter="url(#tx)">2007</text>
<g shape-rendering="crispEdges"><path d="M285.5 967 H380" stroke="#FAC192" stroke-width="3.8" stroke-linecap="round" fill="none"/><use href="#mT" x="332" y="967"/></g>
<text x="389.7" y="980.5" font-size="41" filter="url(#tx)">2010</text>
<g shape-rendering="crispEdges"><path d="M285.5 1019 H380" stroke="#00FFFF" stroke-width="4.1" stroke-linecap="round" fill="none"/><use href="#mU" x="332" y="1019"/></g>
<text x="389.7" y="1032.5" font-size="41" filter="url(#tx)">2014</text>
<g shape-rendering="crispEdges"><path d="M285.5 1071.5 H380" stroke="#0000FF" stroke-width="5" stroke-linecap="round" fill="none"/><use href="#mB" x="332" y="1072"/></g>
<text x="389.7" y="1085" font-size="41" filter="url(#tx)">2015</text>
</svg></body></html>
